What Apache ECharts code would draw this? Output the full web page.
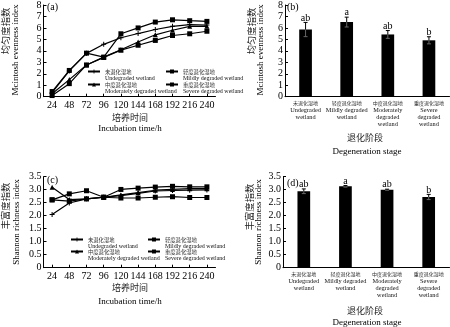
<!DOCTYPE html>
<html><head><meta charset="utf-8">
<script src="https://cdn.jsdelivr.net/npm/echarts@6/dist/echarts.min.js"></script>
<style>html,body{margin:0;padding:0;background:#fff}#c{width:450px;height:327px}</style>
</head><body><div id="c"></div>
<script>
// ---- data ----
const hours = ['24','48','72','96','120','144','168','192','216','240'];
const seriesCN = ['未退化湿地','轻度退化湿地','中度退化湿地','重度退化湿地'];
const seriesEN = ['Undegraded wetland','Mildly degraded wetland','Moderately degraded wetland','Severe degraded wetland'];

const evenUndegraded = [0.35, 2.25, 3.78, 4.57, 5.14, 5.51, 5.86, 6.14, 6.29, 6.25];
const evenMild       = [0.45, 2.29, 3.80, 3.45, 5.49, 6.00, 6.51, 6.71, 6.63, 6.57];
const evenModerate   = [0.25, 1.49, 2.77, 3.45, 4.09, 4.77, 5.40, 5.80, 6.14, 6.14];
const evenSevere     = [0.10, 1.14, 2.77, 3.43, 4.06, 4.49, 4.91, 5.34, 5.49, 5.71];

const richUndegraded = [2.05, 2.49, 2.65, 2.71, 2.77, 2.86, 2.95, 2.97, 2.98, 2.99];
const richMild       = [2.61, 2.84, 2.96, 2.71, 3.01, 3.06, 3.10, 3.13, 3.11, 3.11];
const richModerate   = [3.09, 2.62, 2.65, 2.71, 2.80, 2.89, 2.98, 3.01, 3.04, 3.04];
const richSevere     = [2.61, 2.56, 2.65, 2.71, 2.68, 2.68, 2.71, 2.73, 2.70, 2.70];

const stagesCN = ['未退化湿地','轻度退化湿地','中度退化湿地','重度退化湿地'];
const stagesEN = ['Undegraded\nwetland','Mildly degraded\nwetland','Moderately\ndegraded\nwetland','Severe\ndegraded\nwetland'];
const evenMean = [5.86, 6.51, 5.43, 4.92];
const evenErr  = [0.62, 0.43, 0.34, 0.31];
const richMean = [2.94, 3.13, 3.00, 2.72];
const richErr  = [0.09, 0.03, 0.02, 0.10];
const sigLetters = ['ab','a','ab','b'];

const evenTicks = {min:0, max:8, interval:1};
const richTicks = {min:0, max:3.5, interval:0.5};

// ---- styles ----
const FONT = '"Liberation Serif","Times New Roman","Noto Sans CJK SC",serif';
const CJK = '"Noto Sans CJK SC","Liberation Serif",serif';
const names = seriesCN.map((c,i)=>c+'\n'+seriesEN[i]);
const stages = stagesCN.map((c,i)=>c+'|'+stagesEN[i]);
const plusPath = 'path://M2,0H3V2H5V3H3V5H2V3H0V2H2Z';
const symbols = [plusPath,'rect','triangle','rect'];
const symSizes = [5,5,5,5];

function lineSeries(idx, datas){
  return datas.map((d,i)=>({
    type:'line', name:names[i], xAxisIndex:idx, yAxisIndex:idx, data:d,
    symbol:symbols[i], symbolSize:symSizes[i], showSymbol:true,
    lineStyle:{color:'#000', width:1.2}, itemStyle:{color:'#000'},
    animation:false, z:3
  }));
}
function errSeries(idx, means, errs){
  return {
    type:'custom', xAxisIndex:idx, yAxisIndex:idx, animation:false, z:5,
    data: means.map((m,i)=>[i, m, errs[i]]),
    renderItem(params, api){
      const x = api.value(0), m = api.value(1), e = api.value(2);
      const top = api.coord([x, m+e]);
      const mid = api.coord([x, m]);
      const bot = api.coord([x, m-e]);
      return {type:'group', children:[
        {type:'line', shape:{x1:mid[0],y1:mid[1],x2:bot[0],y2:bot[1]}, style:{stroke:'#666',lineWidth:1}},
        {type:'line', shape:{x1:bot[0]-2,y1:bot[1],x2:bot[0]+2,y2:bot[1]}, style:{stroke:'#666',lineWidth:1}},
        {type:'line', shape:{x1:mid[0],y1:mid[1],x2:top[0],y2:top[1]}, style:{stroke:'#000',lineWidth:1}},
        {type:'line', shape:{x1:top[0]-2,y1:top[1],x2:top[0]+2,y2:top[1]}, style:{stroke:'#000',lineWidth:1}},
        {type:'text', style:{text:sigLetters[params.dataIndex], x:top[0], y:top[1]-4.5, align:'center', verticalAlign:'middle', font:'10px '+FONT, fill:'#000'}}
      ]};
    }
  };
}
const axisLine = {lineStyle:{color:'#000', width:1}};
function catAxis(idx, data, bar){
  return {type:'category', gridIndex:idx, data:data, boundaryGap:true,
    axisLine:axisLine, axisTick:{show:!bar, inside:true, length:3, alignWithLabel:true, lineStyle:{color:'#000'}},
    axisLabel: bar ? {color:'#000', margin:3, interval:0,
                      formatter: v => { const p = v.split('|'); return '{cn|'+p[0]+'}\n'+p[1].split('\n').map(s=>'{en|'+s+'}').join('\n'); },
                      rich:{cn:{fontFamily:CJK, fontSize:5, lineHeight:7, color:'#333'}, en:{fontFamily:FONT, fontSize:6.3, lineHeight:7, color:'#111'}}}
                   : {color:'#000', fontFamily:FONT, fontSize:10, margin:4, interval:0},
    splitLine:{show:false}};
}
function valAxis(idx, t, rich){
  return {type:'value', gridIndex:idx, min:t.min, max:t.max, interval:t.interval,
    axisLine:{show:true, lineStyle:{color:'#000'}}, axisTick:{show:true, inside:true, length:3, lineStyle:{color:'#000'}},
    axisLabel:{color:'#000', fontFamily:FONT, fontSize:10, margin:2,
      formatter: v => rich ? (v===0?'0':v.toFixed(1)) : String(v)},
    splitLine:{show:false}};
}
function legendItem(i, left, top){
  return {data:[names[i]], left:left, top:top, orient:'horizontal', padding:0,
    itemWidth:12, itemHeight:5, itemGap:0, selectedMode:false,
    formatter: n => { const p = n.split('\n'); return '{cn|'+p[0]+'}\n{en|'+p[1]+'}'; },
    textStyle:{fontFamily:FONT, fontSize:6, lineHeight:7, color:'#000', padding:[7,0,0,0],
      rich:{cn:{fontFamily:CJK, fontSize:5.3, lineHeight:7, color:'#333'}, en:{fontFamily:FONT, fontSize:6, lineHeight:7, color:'#111'}}}};
}
function t(text, x, y, size, rot, align, fam, col){
  return {type:'text', x:x, y:y, rotation:rot||0,
    style:{text:text, font:size+'px '+(fam||FONT), fill:col||'#000', align:align||'center', verticalAlign:'middle'}};
}

const option = {
  backgroundColor:'#fff',
  animation:false,
  grid:[
    {left:43.5, top:3.3, width:172, height:93.4},
    {left:285, top:3.3, width:164.5, height:93.4},
    {left:43.5, top:176.7, width:172, height:91},
    {left:283, top:176.7, width:166.5, height:91}
  ],
  xAxis:[catAxis(0,hours,false), catAxis(1,stages,true), catAxis(2,hours,false), catAxis(3,stages,true)],
  yAxis:[valAxis(0,evenTicks,false), valAxis(1,evenTicks,false), valAxis(2,richTicks,true), valAxis(3,richTicks,true)],
  legend:[
    legendItem(0, 87, 61), legendItem(1, 165, 61), legendItem(2, 87, 74), legendItem(3, 165, 74),
    legendItem(0, 70, 229), legendItem(1, 147, 229), legendItem(2, 70, 241), legendItem(3, 147, 241)
  ],
  series:[
    ...lineSeries(0,[evenUndegraded, evenMild, evenModerate, evenSevere]),
    {type:'bar', xAxisIndex:1, yAxisIndex:1, data:evenMean, barWidth:12.7, itemStyle:{color:'#000'}, animation:false},
    errSeries(1, evenMean, evenErr),
    ...lineSeries(2,[richUndegraded, richMild, richModerate, richSevere]),
    {type:'bar', xAxisIndex:3, yAxisIndex:3, data:richMean, barWidth:12.7, itemStyle:{color:'#000'}, animation:false},
    errSeries(3, richMean, richErr)
  ],
  graphic:[
    t('(a)', 47, 7.5, 10, 0, 'left'),
    t('(b)', 287, 7.5, 10, 0, 'left'),
    t('(c)', 47, 180, 10, 0, 'left'),
    t('(d)', 287, 183, 10, 0, 'left'),
    t('均匀度指数', 5, 31, 9.3, Math.PI/2, 'center', CJK, '#222'),
    t('Mcintosh evenness index', 16, 50, 9, Math.PI/2),
    t('均匀度指数', 251, 31, 9.3, Math.PI/2, 'center', CJK, '#222'),
    t('Mcintosh evenness index', 261, 50, 9, Math.PI/2),
    t('丰富度指数', 5, 206, 9.3, Math.PI/2, 'center', CJK, '#222'),
    t('Shannon richness index', 17, 222, 9, Math.PI/2),
    t('丰富度指数', 249, 207, 9.3, Math.PI/2, 'center', CJK, '#222'),
    t('Shannon richness index', 259, 222, 9, Math.PI/2),
    t('培养时间', 130, 118, 9, 0, 'center', CJK, '#222'),
    t('Incubation time/h', 130, 129, 9),
    t('培养时间', 130, 288, 9, 0, 'center', CJK, '#222'),
    t('Incubation time/h', 130, 301.5, 9),
    t('退化阶段', 365, 138, 9, 0, 'center', CJK, '#222'),
    t('Degeneration stage', 367, 152, 9),
    t('退化阶段', 365, 311, 9, 0, 'center', CJK, '#222'),
    t('Degeneration stage', 367, 323, 9)
  ]
};
const chart = echarts.init(document.getElementById('c'), null, {renderer:'canvas'});
chart.setOption(option);
</script></body></html>
